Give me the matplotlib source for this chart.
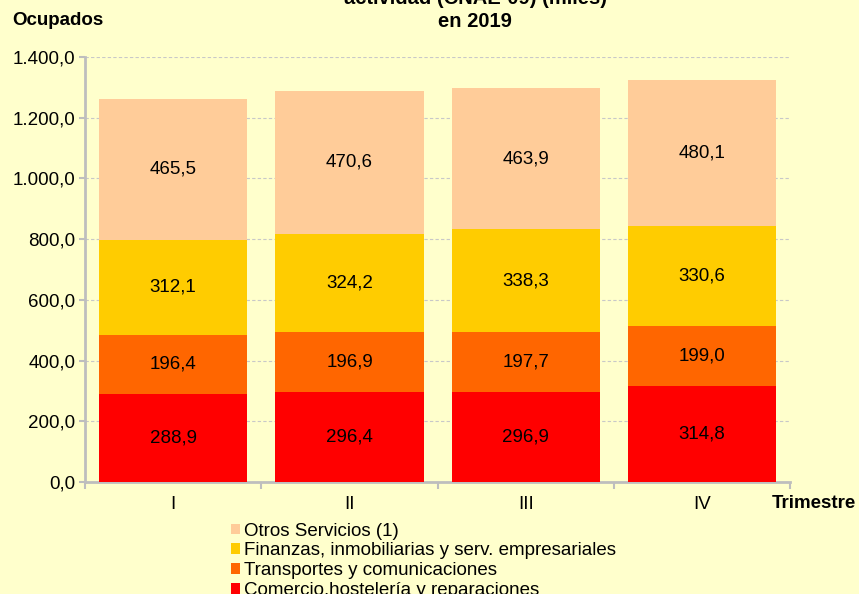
import numpy as np
import matplotlib.pyplot as plt

plt.rcParams['font.family'] = ['Liberation Sans', 'DejaVu Sans']

trimestres = ['I', 'II', 'III', 'IV']
comercio = [288.9, 296.4, 296.9, 314.8]
transportes = [196.4, 196.9, 197.7, 199.0]
finanzas = [312.1, 324.2, 338.3, 330.6]
otros = [465.5, 470.6, 463.9, 480.1]

series = [
    ('Comercio,hostelería y reparaciones', comercio, '#FF0000'),
    ('Transportes y comunicaciones', transportes, '#FF6600'),
    ('Finanzas, inmobiliarias y serv. empresariales', finanzas, '#FFCC00'),
    ('Otros Servicios (1)', otros, '#FFCC99'),
]

bg = '#FFFFCC'
fig = plt.figure(figsize=(8.59, 5.94), dpi=100, facecolor=bg)
ax = fig.add_axes([0.099, 0.1886, 0.821, 0.7154])
ax.set_facecolor(bg)

x = np.arange(len(trimestres))
bottom = np.zeros(len(trimestres))
for name, vals, col in series:
    ax.bar(x, vals, 0.84, bottom=bottom, color=col, label=name, zorder=3)
    for xi, b, v in zip(x, bottom, vals):
        ax.text(xi, b + v / 2, f'{v:.1f}'.replace('.', ','), ha='center', va='center',
                fontsize=13.5, zorder=4)
    bottom += np.array(vals)

ax.set_xlim(-0.5, len(trimestres) - 0.5)
ax.set_ylim(0, 1400)
yt = np.arange(0, 1401, 200)
ax.set_yticks(yt)
ax.set_yticklabels([f'{v:,.1f}'.replace(',', 'X').replace('.', ',').replace('X', '.') for v in yt],
                   fontsize=13.5)
ax.yaxis.grid(True, color='#C8C8C8', linestyle=(0, (3, 2)), linewidth=0.8, zorder=0)

ax.set_xticks(np.arange(-0.5, len(trimestres), 1))
ax.set_xticklabels([])
ax.set_xticks(x, minor=True)
ax.set_xticklabels(trimestres, minor=True, fontsize=13.5)
ax.tick_params(axis='x', which='minor', length=0, pad=10)
ax.tick_params(axis='x', which='major', length=5, color='#BEBEBE', width=1.5)
ax.tick_params(axis='y', length=4, color='#BEBEBE', width=1.5, pad=3)

for s in ['top', 'right']:
    ax.spines[s].set_visible(False)
for s in ['left', 'bottom']:
    ax.spines[s].set_color('#BEBEBE')
    ax.spines[s].set_linewidth(2)

fig.text(0.014, 0.965, 'Ocupados', fontsize=13.5, fontweight='bold', ha='left', va='center')
fig.text(0.553, 0.964, 'en 2019', fontsize=14.5, fontweight='bold', ha='center', va='center')
fig.text(0.553, 1.002, 'actividad (CNAE-09) (miles)', fontsize=14.5, fontweight='bold',
         ha='center', va='center')
fig.text(0.997, 0.152, 'Trimestre', fontsize=13.5, fontweight='bold', ha='right', va='center')

handles, labels = ax.get_legend_handles_labels()
leg = fig.legend(handles[::-1], labels[::-1], loc='upper left', bbox_to_anchor=(0.2575, 0.136),
                 frameon=False, fontsize=13.5, handlelength=0.5, handleheight=0.5,
                 handletextpad=0.2, labelspacing=0.15, borderpad=0)

fig.savefig('out.png', dpi=100, facecolor=bg)
